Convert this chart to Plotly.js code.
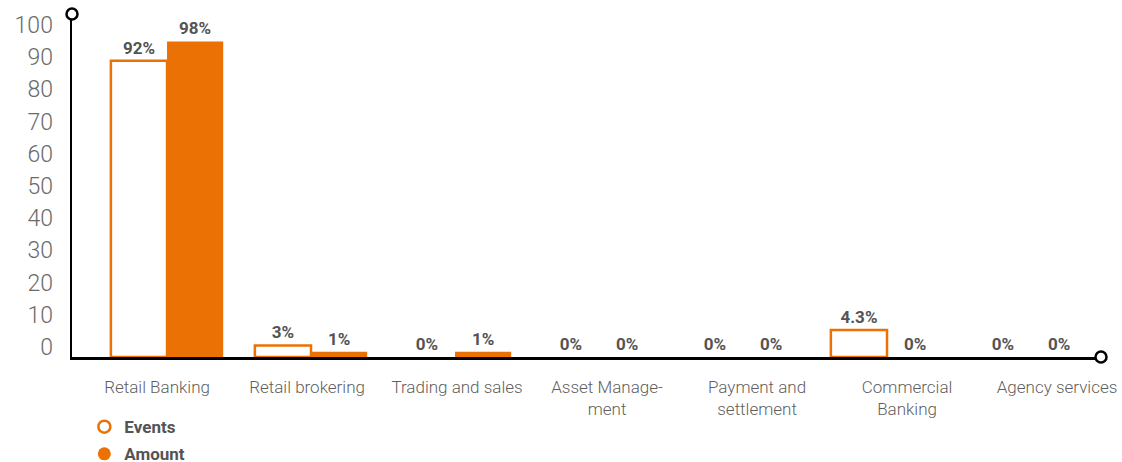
<!DOCTYPE html>
<html>
<head>
<meta charset="utf-8">
<script src="https://cdn.plot.ly/plotly-3.0.1.min.js"></script>
<style>html,body{margin:0;padding:0;background:#fff;}#chart{width:1122px;height:462px;}</style>
</head>
<body>
<div id="chart"></div>
<script>
const categories = ["Retail Banking", "Retail brokering", "Trading and sales", "Asset Manage-<br>ment", "Payment and<br>settlement", "Commercial<br>Banking", "Agency services"];
const eventsValues = [92, 3.6, 0, 0, 0, 8.4, 0];
const amountValues = [98, 1.6, 1.6, 0, 0, 0, 0];
const eventsLabels = ["92%", "3%", "0%", "0%", "0%", "4.3%", "0%"];
const amountLabels = ["98%", "1%", "1%", "0%", "0%", "0%", "0%"];
const yTicks = [0, 10, 20, 30, 40, 50, 60, 70, 80, 90, 100];

const orange = "#ec7105";
const idx = categories.map((c, i) => i);
const labelFont = {family: "Roboto", size: 17, weight: 700, color: "#545454"};
const legendFont = {family: "Roboto", size: 17, weight: 700, color: "#545454"};

const traces = [
  {type: "bar", name: "Events", x: idx, y: eventsValues, text: eventsLabels,
   textposition: "outside", cliponaxis: false, textfont: labelFont, hoverinfo: "skip",
   marker: {color: "#ffffff", line: {color: orange, width: eventsValues.map(v => v > 0 ? 2.5 : 0)}},
   showlegend: false},
  {type: "bar", name: "Amount", x: idx, y: amountValues, text: amountLabels,
   textposition: "outside", cliponaxis: false, textfont: labelFont, hoverinfo: "skip",
   marker: {color: orange, line: {width: 0}}, showlegend: false},
  {type: "scatter", mode: "markers", x: idx, y: idx.map(() => null), xaxis: "x2", yaxis: "y",
   showlegend: false, hoverinfo: "skip"},
  {type: "scatter", mode: "markers", name: "Events", x: [null], y: [null], legend: "legend",
   marker: {symbol: "circle-open", size: 12, color: orange, line: {width: 2.5, color: orange}}},
  {type: "scatter", mode: "markers", name: "Amount", x: [null], y: [null], legend: "legend2",
   marker: {symbol: "circle", size: 13, color: orange}}
];

const layout = {
  width: 1122, height: 462,
  margin: {l: 72, r: 21, t: 14, b: 105, autoexpand: false},
  paper_bgcolor: "#fff", plot_bgcolor: "#fff",
  barmode: "group", bargap: 0.22, bargroupgap: 0,
  showlegend: true,
  legend: {x: 0.012, xanchor: "left", y: -0.152, yanchor: "top",
           font: legendFont, itemwidth: 30, bgcolor: "rgba(0,0,0,0)"},
  legend2: {x: 0.012, xanchor: "left", y: -0.231, yanchor: "top",
           font: legendFont, itemwidth: 30, bgcolor: "rgba(0,0,0,0)"},
  xaxis: {range: [-0.66, 6.486], showticklabels: false, ticks: "", showgrid: false, zeroline: false,
          showline: true, linecolor: "#000", linewidth: 2.5, fixedrange: true},
  xaxis2: {overlaying: "x", anchor: "y", side: "bottom", range: [-0.567, 6.293],
           tickmode: "array", tickvals: idx, ticktext: categories, ticks: "", showgrid: false,
           zeroline: false, showline: false, ticklabelstandoff: 18,
           tickfont: {family: "Roboto", size: 17, weight: 300, color: "#5f5f5f"}},
  yaxis: {range: [0, 106.5], tickmode: "array", tickvals: yTicks, ticks: "", showgrid: false,
          zeroline: false, showline: true, linecolor: "#000", linewidth: 2.5,
          ticklabelstandoff: 12, ticklabelshift: -10,
          tickfont: {family: "Roboto", size: 23, weight: 300, color: "#6a6a6a"}},
  shapes: [
    {type: "circle", xref: "paper", yref: "paper", xsizemode: "pixel", ysizemode: "pixel",
     xanchor: 0, yanchor: 1, x0: -5.5, x1: 5.5, y0: -5.5, y1: 5.5,
     fillcolor: "#fff", line: {color: "#000", width: 2.5}, layer: "above"},
    {type: "circle", xref: "paper", yref: "paper", xsizemode: "pixel", ysizemode: "pixel",
     xanchor: 1, yanchor: 0, x0: -5.5, x1: 5.5, y0: -5.5, y1: 5.5,
     fillcolor: "#fff", line: {color: "#000", width: 2.5}, layer: "above"}
  ]
};

Plotly.newPlot("chart", traces, layout, {displayModeBar: false, staticPlot: true});
</script>
</body>
</html>
